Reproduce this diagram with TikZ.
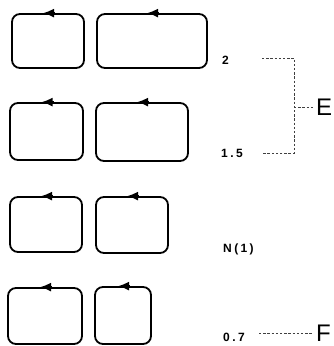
\documentclass[tikz,border=0pt]{standalone}
\usepackage{fontspec}
\setmainfont{Liberation Sans}
\usetikzlibrary{arrows.meta}
\tikzset{
  loopbox/.style={draw, line width=1.8pt, rounded corners=8pt, inner sep=0pt},
  dirarrow/.style={line width=1.8pt, -{Latex[length=11pt,width=9pt]}},
  lbl/.style={anchor=west, inner sep=0pt, font=\fontsize{12}{14}\selectfont\bfseries\addfontfeature{LetterSpace=20}},
  big/.style={anchor=west, inner sep=0pt, font=\fontsize{24}{26}\selectfont},
  brk/.style={line width=1pt, draw=black!75, dash pattern=on 2.4pt off 1.8pt}
}
\begin{document}
\begin{tikzpicture}[x=1pt,y=-1pt]
\useasboundingbox (0,0) rectangle (334,346);
% row 1
\node[loopbox, minimum width=72pt, minimum height=54pt] (a1) at (48,41) {};
\node[loopbox, minimum width=110pt, minimum height=54pt] (b1) at (152,41) {};
% row 2
\node[loopbox, minimum width=73pt, minimum height=57pt] (a2) at (46.5,131.5) {};
\node[loopbox, minimum width=92pt, minimum height=58pt] (b2) at (142,132) {};
% row 3
\node[loopbox, minimum width=72pt, minimum height=55pt] (a3) at (46,224.5) {};
\node[loopbox, minimum width=72pt, minimum height=56pt] (b3) at (132,225) {};
% row 4
\node[loopbox, minimum width=74pt, minimum height=56pt] (a4) at (45,316) {};
\node[loopbox, minimum width=56pt, minimum height=57pt] (b4) at (123,315.5) {};
% arrows on top edges
\foreach \n in {a1,b1,a2,b2,a3,b3,a4,b4}{
  \draw[dirarrow] ([xshift=7pt]\n.north) -- ([xshift=-5pt]\n.north);
}
% labels
\node[lbl] (l2) at (222,60) {2};
\node[lbl] (l15) at (221,153) {1.5};
\node[lbl] (ln) at (223,249.5) {N(1)};
\node[lbl] (l07) at (223,337) {0.7};
\node[big] (E) at (316,107) {E};
\node[big] (F) at (316,333) {F};
% bracket
\coordinate (bt) at (262,58);
\coordinate (bc1) at (294,58);
\coordinate (bc2) at (294,153);
\coordinate (bb) at (262,153);
\coordinate (bm) at (294,107);
\draw[brk] (bt) -- (bc1) -- (bc2) -- (bb);
\draw[brk] (bm) -- ([xshift=-2pt]E.west);
\coordinate (ft) at (259,333);
\draw[brk] (ft) -- ([xshift=-3pt]F.west);
\end{tikzpicture}
\end{document}
